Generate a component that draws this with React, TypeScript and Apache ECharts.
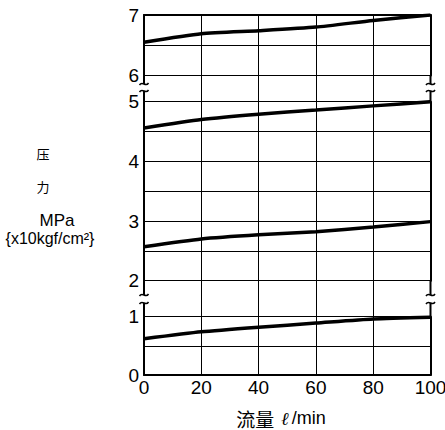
import React, { useEffect, useRef } from "react";
import * as echarts from "echarts";

// Flow rate (ℓ/min) at which the curves are read
const flow = [0, 20, 40, 60, 80, 100];
// Pressure curves (MPa)
const curve7 = [6.55, 6.69, 6.74, 6.8, 6.91, 7.0];
const curve5 = [4.56, 4.7, 4.79, 4.86, 4.93, 5.0];
const curve3 = [2.57, 2.7, 2.77, 2.82, 2.9, 2.99];
const curve1 = [0.62, 0.74, 0.82, 0.89, 0.96, 0.99];
// Visible pressure ranges of the broken axis (top, middle, bottom)
const rangeMin = [6, 2, 0];
const rangeMax = [7, 5, 1];
const xTitle = "流量";
const yTitleLines = ["压", "力"];
const yUnit = "MPa";
const yUnitAlt = "{x10kgf/cm²}";

const FONT = "'Liberation Sans', 'Noto Sans CJK SC', sans-serif";
const CJK = "'Noto Sans CJK SC', 'Liberation Sans', sans-serif";
const LEFT = 144;
const RIGHTX = 430.5;
const W = 445;
const H = 430;
const tops = [15, 101.7, 316.7];
const heights = [60.5, 179, 58.3];

const pairs = (ys: number[]) => flow.map((x, i) => [x, ys[i]]);

export default function App() {
  const ref = useRef<HTMLDivElement>(null);
  useEffect(() => {
    document.body.style.margin = "0";
    const chart = echarts.init(ref.current!, undefined, { renderer: "svg" });

    const grids: any[] = tops.map((t, i) => ({
      left: LEFT,
      width: RIGHTX - LEFT,
      top: t,
      height: heights[i],
      containLabel: false,
      outerBoundsMode: "none",
    }));
    grids.push({
      left: LEFT,
      width: RIGHTX - LEFT,
      top: tops[0],
      height: tops[2] + heights[2] - tops[0],
      containLabel: false,
      outerBoundsMode: "none",
    });

    const xAxes: any[] = [0, 1, 2].map((i) => ({
      type: "value",
      gridIndex: i,
      min: 0,
      max: 100,
      interval: 20,
      position: i === 0 ? "top" : "bottom",
      axisLine: { show: i !== 1, lineStyle: { color: "#000", width: 2 } },
      axisTick: { show: false },
      splitLine: { show: false },
      axisLabel: {
        show: i === 2,
        color: "#000",
        fontSize: 19,
        fontFamily: FONT,
        margin: 3,
      },
    }));
    xAxes.push({
      type: "value",
      gridIndex: 3,
      min: 0,
      max: 100,
      interval: 20,
      axisLine: { show: false },
      axisTick: { show: false },
      axisLabel: { show: false },
      splitLine: {
        show: true,
        showMinLine: false,
        showMaxLine: false,
        lineStyle: { color: "#000", width: 1 },
      },
    });

    const yAxes: any[] = [];
    [0, 1, 2].forEach((i) => {
      yAxes.push({
        type: "value",
        gridIndex: i,
        min: rangeMin[i],
        max: rangeMax[i],
        interval: 0.5,
        position: "left",
        axisLine: { show: true, lineStyle: { color: "#000", width: 2 } },
        axisTick: { show: false },
        splitLine: { show: true, lineStyle: { color: "#000", width: 1 } },
        axisLabel: {
          color: "#000",
          fontSize: 19,
          fontFamily: FONT,
          margin: 5,
          formatter: (v: number) => (Number.isInteger(v) ? String(v) : ""),
        },
      });
      yAxes.push({
        type: "value",
        gridIndex: i,
        min: rangeMin[i],
        max: rangeMax[i],
        interval: 0.5,
        position: "right",
        axisLine: { show: true, lineStyle: { color: "#000", width: 2 } },
        axisTick: { show: false },
        splitLine: { show: false },
        axisLabel: { show: false },
      });
    });
    yAxes.push({ type: "value", gridIndex: 3, min: 0, max: 1, show: false });

    const lineSeries = (data: number[], grid: number) => ({
      type: "line",
      xAxisIndex: grid,
      yAxisIndex: grid * 2,
      data: pairs(data),
      smooth: 0.2,
      showSymbol: false,
      lineStyle: { color: "#000", width: 3.5 },
      z: 5,
    });

    // break marks
    const gaps = [
      { a: tops[0] + heights[0], b: tops[1], s1: 84, s2: 91 },
      { a: tops[1] + heights[1], b: tops[2], s1: 295, s2: 303 },
    ];
    const graphics: any[] = [];
    gaps.forEach((g) => {
      [LEFT, RIGHTX].forEach((x) => {
        graphics.push({
          type: "line",
          shape: { x1: x, y1: g.a, x2: x, y2: g.s1 },
          style: { stroke: "#000", lineWidth: 2 },
        });
        graphics.push({
          type: "line",
          shape: { x1: x, y1: g.s2, x2: x, y2: g.b },
          style: { stroke: "#000", lineWidth: 2 },
        });
        [g.s1, g.s2].forEach((y) =>
          graphics.push({
            type: "bezierCurve",
            shape: {
              x1: x - 4.5,
              y1: y + 1,
              cpx1: x - 1.5,
              cpy1: y - 4,
              cpx2: x + 1.5,
              cpy2: y + 4,
              x2: x + 4.5,
              y2: y - 1,
            },
            style: { stroke: "#000", lineWidth: 1.5, fill: null },
          })
        );
      });
    });
    const txt = (text: string, x: number, y: number, size: number, fam = FONT) => ({
      type: "text",
      x,
      y,
      style: {
        text,
        fill: "#000",
        font: `${size}px ${fam}`,
        align: "center",
        verticalAlign: "middle",
      },
    });
    graphics.push(txt(yTitleLines[0], 43, 153, 13, CJK));
    graphics.push(txt(yTitleLines[1], 43, 186, 13, CJK));
    graphics.push(txt(yUnit, 57, 220, 17));
    graphics.push(txt(yUnitAlt, 50, 238, 16));
    graphics.push({
      type: "text",
      x: 281,
      y: 418,
      style: {
        text: `{c|${xTitle}}  {b|ℓ} {a|/min}`,
        align: "center",
        verticalAlign: "middle",
        rich: {
          c: { fontSize: 19, fontFamily: CJK, fill: "#000", color: "#000" },
          a: { fontSize: 18, fontFamily: FONT, fill: "#000", color: "#000" },
          b: {
            fontSize: 18,
            fontFamily: "'DejaVu Serif', serif",
            fontStyle: "italic",
            fill: "#000",
            color: "#000",
          },
        },
      },
    });

    chart.setOption({
      animation: false,
      backgroundColor: "#fff",
      grid: grids,
      xAxis: xAxes,
      yAxis: yAxes,
      series: [
        lineSeries(curve7, 0),
        lineSeries(curve5, 1),
        lineSeries(curve3, 1),
        lineSeries(curve1, 2),
      ],
      graphic: graphics,
    });
    return () => chart.dispose();
  }, []);
  return <div ref={ref} style={{ width: W, height: H }} />;
}
